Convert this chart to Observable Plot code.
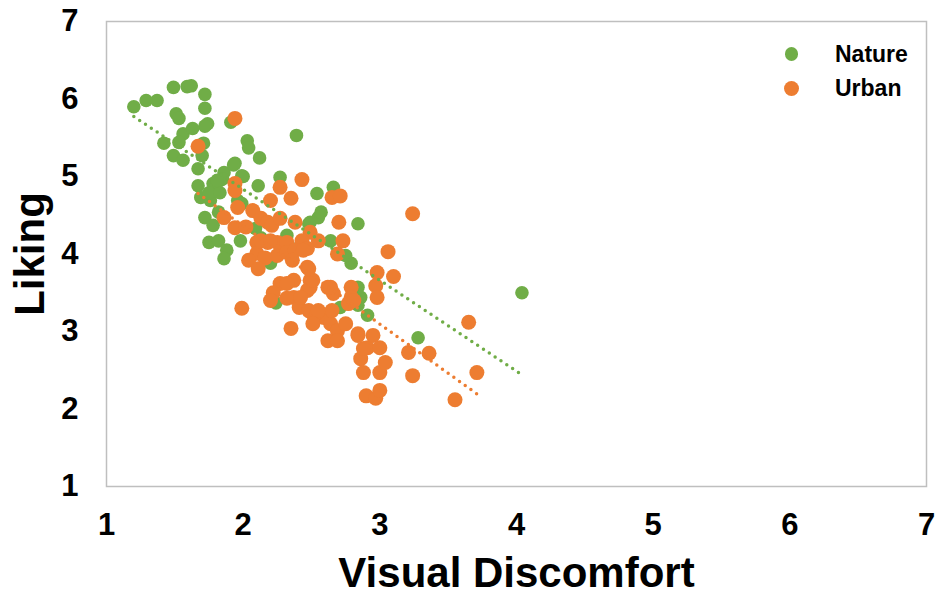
<!DOCTYPE html>
<html>
<head>
<meta charset="utf-8">
<script src="https://cdn.jsdelivr.net/npm/d3@7"></script>
<script src="https://cdn.jsdelivr.net/npm/@observablehq/plot@0.6"></script>
<style>
  html, body { margin: 0; padding: 0; background: #fff; }
  #wrap { position: relative; width: 938px; height: 594px; font-family: "Liberation Sans", Arial, sans-serif; }
  .legend { position: absolute; left: 784px; font-weight: bold; font-size: 23px; color: #000; display: flex; align-items: center; height: 30px; }
  .legend .sw { display: inline-block; border-radius: 50%; }
</style>
</head>
<body>
<div id="wrap"></div>
<script>
// ---- data ----
const seriesNames = ["Nature", "Urban"];
const seriesColors = ["#70AD47", "#ED7D31"];
const ticks = [1, 2, 3, 4, 5, 6, 7];

const natureX = [1.20,1.29,1.37,1.49,1.59,1.62,1.72,1.72,1.51,1.53,1.74,1.72,1.91,1.56,1.63,1.42,1.53,1.71,1.49,1.56,
  1.70,1.67,2.03,2.04,2.12,2.39,1.94,2.00,2.11,2.27,1.67,1.78,1.83,1.86,2.54,2.66,1.85,1.69,1.76,1.72,
  1.75,1.82,1.88,1.86,1.96,1.98,2.55,1.75,1.83,1.82,1.99,2.84,2.20,2.13,2.32,2.79,2.84,2.86,2.91,3.28,
  2.22,2.71,4.04,1.78,1.93,1.81,2.57,2.49,2.24,1.99,2.84,2.09,2.42,2.64,2.75,2.48];
const natureY = [5.90,5.98,5.98,6.15,6.16,6.17,6.06,5.88,5.81,5.75,5.68,5.65,5.70,5.55,5.62,5.43,5.44,5.43,5.27,5.21,
  5.27,5.10,5.46,5.37,5.24,5.53,5.17,5.00,4.88,4.99,4.88,4.91,4.95,5.05,4.78,4.86,4.97,4.73,4.69,4.47,
  4.15,4.17,4.05,3.94,4.69,4.17,4.47,4.79,4.79,4.54,4.65,4.39,3.88,4.21,4.24,3.88,3.57,3.44,3.21,2.92,
  3.40,3.31,3.50,4.37,5.15,4.95,4.54,4.41,3.37,5.01,3.34,4.33,4.11,4.17,3.98,4.39];

const urbanX = [1.94,1.67,1.94,1.94,2.27,2.43,2.35,2.20,2.65,2.71,2.70,1.96,1.86,1.94,2.02,2.07,2.13,2.18,2.21,2.27,
  2.38,2.49,2.55,2.73,2.69,2.43,2.47,2.10,2.18,2.25,2.32,2.10,2.16,2.25,2.32,2.38,2.04,2.11,2.36,2.47,
  2.49,2.47,2.49,2.27,2.22,2.20,2.37,2.37,2.41,1.99,2.62,2.66,2.79,2.79,2.98,2.97,2.98,3.10,3.06,3.24,
  2.51,2.59,2.64,2.69,2.35,2.48,2.54,2.75,2.84,2.91,2.95,3.00,3.21,2.86,2.62,3.36,2.77,2.81,3.65,3.24,
  3.71,3.55,2.90,2.97,3.00,2.88,3.00,2.88,3.04,2.84,2.65,2.55,2.51,2.32,2.42,2.51,2.48,2.32,2.13,2.20,
  2.44,2.64,2.69];
const urbanY = [5.75,5.39,4.91,4.82,4.86,4.96,4.72,4.69,4.73,4.75,4.41,4.60,4.47,4.34,4.35,4.56,4.46,4.41,4.37,4.46,
  4.41,4.28,4.17,4.17,4.00,4.17,4.07,4.15,4.15,4.15,4.15,4.01,3.95,3.98,4.02,4.05,3.92,3.81,3.92,3.83,
  3.66,3.53,3.57,3.62,3.50,3.40,3.66,3.44,3.31,3.30,3.57,3.49,3.57,3.44,3.76,3.59,3.44,3.71,4.03,4.52,
  3.23,3.18,3.10,3.01,3.04,3.27,3.25,3.10,2.97,2.79,2.95,2.79,2.73,2.65,2.88,2.72,3.36,3.40,3.12,2.43,
  2.47,2.12,2.17,2.14,2.24,2.47,2.47,2.78,2.60,2.95,3.27,3.27,3.10,3.43,3.44,3.66,3.81,3.62,4.17,4.17,
  4.05,3.57,2.88];

const xLabel = "Visual Discomfort";
const yLabel = "Liking";

// ---- build table ----
const nature = natureX.map((x, i) => ({x, y: natureY[i], s: seriesNames[0]}));
const urban = urbanX.map((x, i) => ({x, y: urbanY[i], s: seriesNames[1]}));

const font = "Liberation Sans, Arial, sans-serif";

const chart = Plot.plot({
  width: 938,
  height: 594,
  marginLeft: 106,
  marginRight: 12,
  marginTop: 21,
  marginBottom: 108,
  style: {fontFamily: font, fontWeight: "bold", background: "#fff", color: "#000"},
  x: {domain: [1, 7]},
  y: {domain: [1, 7]},
  marks: [
    Plot.frame({stroke: "#BFBFBF", strokeWidth: 1.5}),
    Plot.axisX({ticks, tickSize: 0, tickPadding: 26, fontSize: 31, fontWeight: "bold", label: null, tickFormat: d3.format("d")}),
    Plot.axisY({ticks, tickSize: 0, tickPadding: 28, fontSize: 31, fontWeight: "bold", label: null, tickFormat: d3.format("d")}),
    Plot.dot(nature, {x: "x", y: "y", r: 6.8, fill: seriesColors[0], stroke: "none"}),
    Plot.dot(urban, {x: "x", y: "y", r: 7.5, fill: seriesColors[1], stroke: "none"}),
    Plot.linearRegressionY(nature, {x: "x", y: "y", ci: 0, stroke: seriesColors[0], strokeWidth: 3.5, strokeDasharray: "0 7", strokeLinecap: "round"}),
    Plot.linearRegressionY(urban, {x: "x", y: "y", ci: 0, stroke: seriesColors[1], strokeWidth: 3.5, strokeDasharray: "0 7", strokeLinecap: "round"}),
    Plot.text([xLabel], {text: d => d, frameAnchor: "bottom", textAnchor: "middle", lineAnchor: "bottom", dy: 100, fontSize: 42, fontWeight: "bold", fill: "#000"}),
    Plot.text([yLabel], {text: d => d, frameAnchor: "left", textAnchor: "middle", lineAnchor: "middle", dx: -76, rotate: -90, fontSize: 42, fontWeight: "bold", fill: "#000"})
  ]
});

const wrap = document.getElementById("wrap");
wrap.appendChild(chart);

// legend (inside plot area, top right)
const legendSizes = [13.5, 15];
const legendTops = [39, 73];
seriesNames.forEach((name, i) => {
  const row = document.createElement("div");
  row.className = "legend";
  row.style.top = legendTops[i] + "px";
  const sw = document.createElement("span");
  sw.className = "sw";
  sw.style.width = legendSizes[i] + "px";
  sw.style.height = legendSizes[i] + "px";
  sw.style.background = seriesColors[i];
  sw.style.marginLeft = ((15 - legendSizes[i]) / 2) + "px";
  sw.style.marginRight = (36 + (15 - legendSizes[i]) / 2) + "px";
  row.appendChild(sw);
  row.appendChild(document.createTextNode(name));
  wrap.appendChild(row);
});
</script>
</body>
</html>
